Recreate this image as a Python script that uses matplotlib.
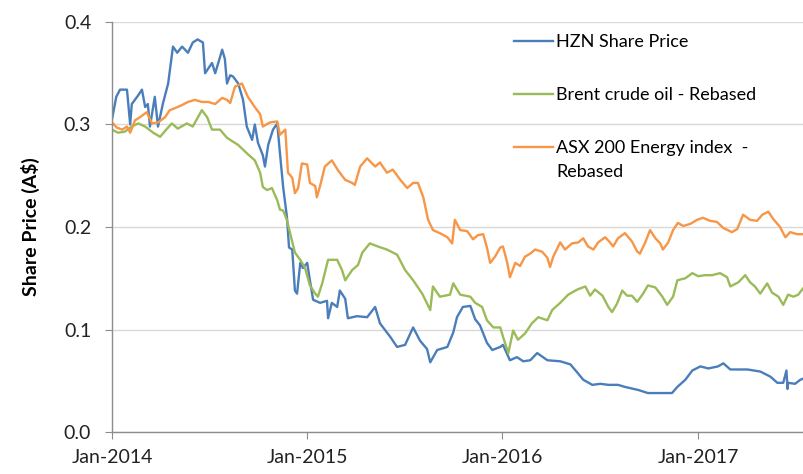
"""HZN share price vs Brent crude and ASX 200 Energy index (rebased)."""

import matplotlib

matplotlib.use("Agg")
import matplotlib.dates as mdates
import matplotlib.pyplot as plt
import pandas as pd

hzn_dates = [
    "2014-01-01", "2014-01-09", "2014-01-16", "2014-01-29", "2014-02-04", "2014-02-07",
    "2014-02-17", "2014-02-26", "2014-03-04", "2014-03-09", "2014-03-13", "2014-03-22",
    "2014-03-28", "2014-04-06", "2014-04-16", "2014-04-25", "2014-05-03", "2014-05-12",
    "2014-05-23", "2014-06-01", "2014-06-10", "2014-06-20", "2014-06-24", "2014-07-07",
    "2014-07-13", "2014-07-26", "2014-07-31", "2014-08-04", "2014-08-10", "2014-08-15",
    "2014-08-25", "2014-09-03", "2014-09-10", "2014-09-20", "2014-09-25", "2014-10-01",
    "2014-10-10", "2014-10-14", "2014-10-20", "2014-10-29", "2014-11-06", "2014-11-11",
    "2014-11-17", "2014-11-24", "2014-11-28", "2014-12-04", "2014-12-09", "2014-12-13",
    "2014-12-19", "2014-12-24", "2015-01-01", "2015-01-06", "2015-01-12", "2015-01-25",
    "2015-02-07", "2015-02-09", "2015-02-16", "2015-02-26", "2015-03-03", "2015-03-13",
    "2015-03-18", "2015-04-04", "2015-04-23", "2015-05-08", "2015-05-17", "2015-06-05",
    "2015-06-18", "2015-07-03", "2015-07-18", "2015-07-31", "2015-08-13", "2015-08-19",
    "2015-09-01", "2015-09-20", "2015-10-01", "2015-10-08", "2015-10-19", "2015-11-02",
    "2015-11-11", "2015-11-20", "2015-12-03", "2015-12-13", "2015-12-28", "2016-01-02",
    "2016-01-15", "2016-01-28", "2016-02-09", "2016-02-22", "2016-03-06", "2016-03-25",
    "2016-04-18", "2016-05-07", "2016-05-20", "2016-05-31", "2016-06-17", "2016-07-02",
    "2016-07-17", "2016-08-04", "2016-08-17", "2016-09-11", "2016-09-29", "2016-10-18",
    "2016-11-13", "2016-11-23", "2016-12-08", "2016-12-21", "2017-01-05", "2017-01-20",
    "2017-02-07", "2017-02-17", "2017-03-02", "2017-04-03", "2017-04-27", "2017-05-16",
    "2017-05-29", "2017-06-09", "2017-06-15", "2017-06-17", "2017-06-18", "2017-07-01",
    "2017-07-11", "2017-07-16",
]
hzn_price = [
    0.305, 0.327, 0.334, 0.334, 0.300, 0.320,
    0.327, 0.334, 0.317, 0.320, 0.298, 0.327,
    0.298, 0.320, 0.340, 0.376, 0.370, 0.376,
    0.370, 0.380, 0.383, 0.380, 0.350, 0.360,
    0.350, 0.373, 0.364, 0.340, 0.348, 0.347,
    0.340, 0.324, 0.298, 0.285, 0.300, 0.282,
    0.270, 0.259, 0.280, 0.295, 0.301, 0.272,
    0.239, 0.210, 0.180, 0.178, 0.138, 0.135,
    0.165, 0.160, 0.165, 0.148, 0.129, 0.126,
    0.128, 0.111, 0.126, 0.122, 0.138, 0.130,
    0.111, 0.113, 0.112, 0.122, 0.106, 0.093,
    0.083, 0.085, 0.102, 0.089, 0.081, 0.068,
    0.080, 0.083, 0.097, 0.112, 0.122, 0.123,
    0.110, 0.104, 0.087, 0.080, 0.083, 0.085,
    0.070, 0.073, 0.069, 0.070, 0.077, 0.070,
    0.069, 0.066, 0.058, 0.051, 0.046, 0.047,
    0.046, 0.046, 0.044, 0.041, 0.038, 0.038,
    0.038, 0.044, 0.051, 0.060, 0.064, 0.062,
    0.064, 0.067, 0.061, 0.061, 0.059, 0.054,
    0.048, 0.048, 0.060, 0.042, 0.048, 0.047,
    0.051, 0.052,
]

brent_dates = [
    "2014-01-01", "2014-01-12", "2014-01-25", "2014-02-07", "2014-02-19", "2014-03-04",
    "2014-03-19", "2014-04-01", "2014-04-14", "2014-04-23", "2014-05-04", "2014-05-21",
    "2014-06-01", "2014-06-18", "2014-06-28", "2014-07-07", "2014-07-22", "2014-08-04",
    "2014-08-25", "2014-09-10", "2014-09-25", "2014-10-05", "2014-10-10", "2014-10-18",
    "2014-10-27", "2014-11-06", "2014-11-11", "2014-11-17", "2014-11-24", "2014-11-30",
    "2014-12-09", "2014-12-19", "2014-12-28", "2015-01-06", "2015-01-16", "2015-01-21",
    "2015-01-29", "2015-02-09", "2015-02-26", "2015-03-07", "2015-03-13", "2015-03-26",
    "2015-04-06", "2015-04-14", "2015-04-28", "2015-05-13", "2015-05-30", "2015-06-18",
    "2015-07-03", "2015-07-18", "2015-08-04", "2015-08-19", "2015-08-24", "2015-09-06",
    "2015-09-25", "2015-10-01", "2015-10-14", "2015-11-02", "2015-11-11", "2015-11-24",
    "2015-12-03", "2015-12-15", "2015-12-28", "2016-01-02", "2016-01-12", "2016-01-21",
    "2016-01-30", "2016-02-12", "2016-02-25", "2016-03-08", "2016-03-25", "2016-04-03",
    "2016-04-18", "2016-05-03", "2016-05-20", "2016-06-04", "2016-06-13", "2016-06-22",
    "2016-07-06", "2016-07-17", "2016-07-24", "2016-08-02", "2016-08-12", "2016-08-21",
    "2016-08-30", "2016-09-09", "2016-09-20", "2016-09-29", "2016-10-13", "2016-10-26",
    "2016-11-04", "2016-11-15", "2016-11-23", "2016-12-08", "2016-12-21", "2017-01-01",
    "2017-01-14", "2017-01-27", "2017-02-11", "2017-02-24", "2017-03-02", "2017-03-17",
    "2017-03-30", "2017-04-08", "2017-04-17", "2017-04-27", "2017-05-10", "2017-05-19",
    "2017-05-31", "2017-06-09", "2017-06-18", "2017-06-28", "2017-07-07", "2017-07-16",
]
brent_rebased = [
    0.295, 0.292, 0.293, 0.298, 0.301, 0.298,
    0.292, 0.288, 0.296, 0.301, 0.296, 0.301,
    0.298, 0.314, 0.307, 0.295, 0.295, 0.287,
    0.280, 0.272, 0.265, 0.253, 0.239, 0.236,
    0.238, 0.226, 0.217, 0.216, 0.207, 0.194,
    0.175, 0.168, 0.160, 0.143, 0.135, 0.132,
    0.145, 0.168, 0.168, 0.158, 0.148, 0.158,
    0.163, 0.175, 0.184, 0.181, 0.178, 0.173,
    0.158, 0.148, 0.135, 0.119, 0.142, 0.132,
    0.134, 0.145, 0.134, 0.132, 0.126, 0.122,
    0.109, 0.102, 0.102, 0.093, 0.077, 0.099,
    0.090, 0.096, 0.106, 0.112, 0.109, 0.119,
    0.126, 0.134, 0.139, 0.142, 0.133, 0.139,
    0.133, 0.122, 0.117, 0.125, 0.138, 0.133,
    0.133, 0.127, 0.135, 0.143, 0.141, 0.132,
    0.124, 0.132, 0.148, 0.150, 0.155, 0.152,
    0.153, 0.153, 0.155, 0.151, 0.142, 0.146,
    0.153, 0.146, 0.142, 0.135, 0.145, 0.136,
    0.132, 0.124, 0.134, 0.132, 0.134, 0.140,
]

asx_dates = [
    "2014-01-01", "2014-01-10", "2014-01-20", "2014-01-29", "2014-02-04", "2014-02-13",
    "2014-02-22", "2014-03-07", "2014-03-17", "2014-03-28", "2014-04-10", "2014-04-19",
    "2014-04-29", "2014-05-12", "2014-05-23", "2014-06-05", "2014-06-18", "2014-06-30",
    "2014-07-13", "2014-07-26", "2014-08-04", "2014-08-10", "2014-08-19", "2014-09-01",
    "2014-09-12", "2014-09-25", "2014-10-05", "2014-10-10", "2014-10-23", "2014-11-06",
    "2014-11-11", "2014-11-21", "2014-11-26", "2014-12-04", "2014-12-09", "2014-12-15",
    "2014-12-22", "2015-01-01", "2015-01-06", "2015-01-16", "2015-01-19", "2015-01-25",
    "2015-02-03", "2015-02-16", "2015-02-28", "2015-03-13", "2015-03-26", "2015-03-31",
    "2015-04-10", "2015-04-23", "2015-05-08", "2015-05-17", "2015-05-30", "2015-06-10",
    "2015-06-24", "2015-07-07", "2015-07-18", "2015-07-27", "2015-08-06", "2015-08-15",
    "2015-08-24", "2015-09-06", "2015-09-20", "2015-09-29", "2015-10-04", "2015-10-14",
    "2015-10-27", "2015-11-07", "2015-11-16", "2015-11-26", "2015-12-03", "2015-12-09",
    "2015-12-18", "2015-12-28", "2016-01-02", "2016-01-10", "2016-01-15", "2016-01-25",
    "2016-02-03", "2016-02-12", "2016-02-22", "2016-03-02", "2016-03-15", "2016-03-25",
    "2016-03-30", "2016-04-05", "2016-04-18", "2016-04-27", "2016-05-10", "2016-05-22",
    "2016-05-31", "2016-06-09", "2016-06-19", "2016-06-28", "2016-07-11", "2016-07-20",
    "2016-07-26", "2016-08-04", "2016-08-17", "2016-08-30", "2016-09-09", "2016-09-14",
    "2016-09-24", "2016-10-03", "2016-10-13", "2016-10-22", "2016-10-27", "2016-11-06",
    "2016-11-15", "2016-11-24", "2016-12-04", "2016-12-17", "2016-12-30", "2017-01-10",
    "2017-01-23", "2017-02-05", "2017-02-17", "2017-03-05", "2017-03-15", "2017-03-26",
    "2017-04-08", "2017-04-21", "2017-05-01", "2017-05-12", "2017-05-21", "2017-06-03",
    "2017-06-13", "2017-06-22", "2017-07-05", "2017-07-16",
]
asx_rebased = [
    0.302, 0.297, 0.295, 0.298, 0.292, 0.304,
    0.307, 0.312, 0.301, 0.302, 0.307, 0.314,
    0.316, 0.319, 0.322, 0.324, 0.322, 0.322,
    0.320, 0.326, 0.324, 0.321, 0.337, 0.340,
    0.327, 0.317, 0.310, 0.298, 0.302, 0.303,
    0.290, 0.295, 0.253, 0.248, 0.233, 0.238,
    0.262, 0.261, 0.243, 0.240, 0.229, 0.240,
    0.259, 0.265, 0.255, 0.246, 0.243, 0.241,
    0.259, 0.267, 0.259, 0.263, 0.253, 0.256,
    0.246, 0.238, 0.243, 0.243, 0.229, 0.207,
    0.197, 0.194, 0.190, 0.184, 0.207, 0.197,
    0.196, 0.188, 0.192, 0.193, 0.180, 0.165,
    0.171, 0.180, 0.181, 0.165, 0.151, 0.165,
    0.162, 0.171, 0.174, 0.178, 0.176, 0.170,
    0.161, 0.171, 0.185, 0.178, 0.184, 0.185,
    0.189, 0.181, 0.178, 0.185, 0.190, 0.185,
    0.181, 0.189, 0.194, 0.186, 0.176, 0.174,
    0.185, 0.197, 0.189, 0.184, 0.178, 0.185,
    0.197, 0.204, 0.201, 0.203, 0.207, 0.209,
    0.206, 0.205, 0.199, 0.195, 0.198, 0.212,
    0.207, 0.206, 0.212, 0.215, 0.208, 0.200,
    0.190, 0.195, 0.193, 0.193,
]

year_ticks = ["2014-01-01", "2015-01-01", "2016-01-01", "2017-01-01"]
labels = ["HZN Share Price", "Brent crude oil - Rebased", "ASX 200 Energy index  -"]
label_tail = "Rebased"

plt.rcParams["font.family"] = ["Lato", "DejaVu Sans"]

fig = plt.figure(figsize=(8.04, 4.74), dpi=100)
ax = fig.add_axes([0.1393, 0.0886, 0.8595, 0.865])

series = [
    (hzn_dates, hzn_price, "#4a7ebb"),
    (brent_dates, brent_rebased, "#9bbb59"),
    (asx_dates, asx_rebased, "#f79646"),
]
for (dates, vals, color), label in zip(series, labels):
    ax.plot(pd.to_datetime(dates), vals, color=color, linewidth=1.7, label=label)

ax.set_xlim(pd.Timestamp("2014-01-01"), pd.Timestamp("2017-07-16"))
ax.set_ylim(0, 0.4)
ax.set_yticks([0.0, 0.1, 0.2, 0.3, 0.4])
ax.yaxis.set_major_formatter(matplotlib.ticker.FormatStrFormatter("%.1f"))
ax.set_xticks(pd.to_datetime(year_ticks))
ax.xaxis.set_major_formatter(mdates.DateFormatter("%b-%Y"))

ax.grid(True, axis="y", color="#d9d9d9", linewidth=1.0)
ax.set_axisbelow(True)
for side in ("top", "right"):
    ax.spines[side].set_visible(False)
for side in ("left", "bottom"):
    ax.spines[side].set_color("#8c8c8c")
    ax.spines[side].set_linewidth(1.0)
ax.tick_params(axis="both", direction="out", length=5, color="#8c8c8c",
               labelsize=14, labelcolor="#222222")
ax.tick_params(axis="x", pad=7)
ax.tick_params(axis="y", pad=10)

ax.set_ylabel("Share Price (A$)", fontsize=14, fontweight="bold", labelpad=17)

leg = ax.legend(loc="upper left", bbox_to_anchor=(0.628, 0.947), bbox_transform=fig.transFigure,
                frameon=False, fontsize=13, handlelength=2.15, handletextpad=0.2,
                labelspacing=2.05, borderpad=0.0)

# second line of the last legend entry sits under its first line
fig.canvas.draw()
bb = leg.get_texts()[2].get_window_extent().transformed(fig.transFigure.inverted())
fig.text(bb.x0, bb.y0 - 0.016, label_tail, fontsize=13, va="top", ha="left")

fig.savefig("out.png", dpi=100)
plt.close(fig)
